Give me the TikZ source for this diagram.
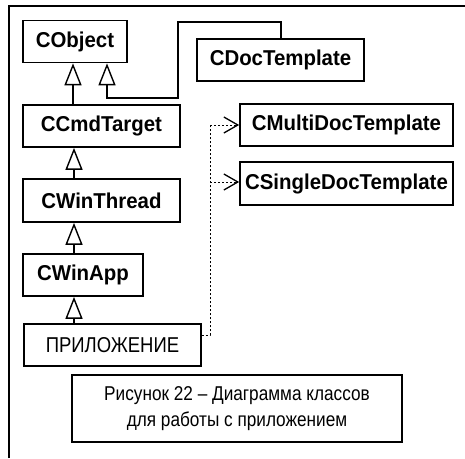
\documentclass[tikz,border=0pt]{standalone}
\usepackage{fontspec}
\setmainfont{Liberation Sans}
\newfontfamily\clsfont[FakeStretch=0.95,Ligatures=TeX]{Liberation Sans}
\newfontfamily\capfont[FakeStretch=0.86,Ligatures=TeX]{Liberation Sans}
\usetikzlibrary{arrows.meta}
\begin{document}
\begin{tikzpicture}[x=1pt,y=-1pt,
  cls/.style={draw,line width=1.7pt,inner sep=0pt,minimum height=42pt,font=\clsfont\bfseries\fontsize{21.5}{24}\selectfont},
  plain/.style={draw,line width=1.3pt,inner sep=0pt,minimum height=42pt,font=\capfont\fontsize{21.5}{24}\selectfont},
  inh/.style={line width=1.1pt,-{Triangle[open,length=22pt,width=17pt,line width=1.4pt]}},
  dep/.style={line width=1pt,dash pattern=on 2pt off 2pt},
  deparr/.style={dep,-{Straight Barb[length=14pt,width=16pt,line width=1.3pt]}}]
\useasboundingbox (0,0) rectangle (465,458);
% frame
\draw[line width=1.2pt] (9,458) -- (9,6) -- (465,6);
% nodes
\node[cls,minimum width=104pt] (obj) at (75,41.5) {CObject};
\node[cls,minimum width=167pt] (doc) at (280.5,60) {CDocTemplate};
\node[cls,minimum width=157pt] (cmd) at (101.5,126) {CCmdTarget};
\node[cls,minimum width=213pt] (multi) at (346.5,125) {CMultiDocTemplate};
\node[cls,minimum width=213pt,minimum height=43pt] (single) at (346.5,183.5) {CSingleDocTemplate};
\node[cls,minimum width=157pt,minimum height=43pt] (thr) at (101.5,200.5) {CWinThread};
\node[cls,minimum width=120pt] (app) at (83,275) {CWinApp};
\node[plain,minimum width=177pt] (prog) at (112.5,345) {ПРИЛОЖЕНИЕ};
\node[plain,minimum width=330pt,minimum height=67pt,align=center,font=\capfont\fontsize{20}{26}\selectfont] (cap) at (237,408.5) {Рисунок 22 – Диаграмма классов\\для работы с приложением};
% inheritance
\draw[inh] (cmd.north -| 73,0) -- (obj.south -| 73,0);
\draw[inh] (thr.north -| 74,0) -- (cmd.south -| 74,0);
\draw[inh] (app.north -| 74,0) -- (thr.south -| 74,0);
\draw[inh] (prog.north -| 74,0) -- (app.south -| 74,0);
\draw[inh] (doc.north -| 281,0) -- (281,22) -- (178,22) -- (178,98) -- (107,98) -- (obj.south -| 107,0);
% dependencies
\coordinate (d0) at (210,335);
\coordinate (d1) at (210,125);
\coordinate (d2) at (210,182);
\draw[dep] (prog.east |- d0) -- (d0) -- (d1);
\draw[deparr] (d1) -- (multi.west |- d1);
\draw[deparr] (d2) -- (single.west |- d2);
\end{tikzpicture}
\end{document}
